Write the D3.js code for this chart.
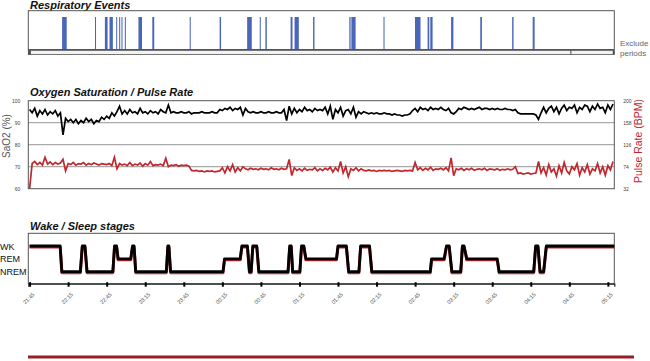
<!DOCTYPE html>
<html><head><meta charset="utf-8">
<script src="https://cdn.jsdelivr.net/npm/d3@7"></script>
<style>body{margin:0;background:#fff;} svg{display:block;font-family:"Liberation Sans",Arial,sans-serif;}</style>
</head><body>
<svg id="c" width="650" height="361"></svg>
<script>
// ---------- DATA ----------
const timeTickLabels = ["21:45","22:15","22:45","23:15","23:45","00:15","00:45","01:15","01:45","02:15","02:45","03:15","03:45","04:15","04:45","05:15"];
// minutes after 21:45
const timeDomain = [-1, 455];
const eventStarts = [25.3,50.9,58.6,62.2,67.4,69.7,71.5,74.1,84.7,95.5,124.6,147.9,169.3,179.1,183.5,203.1,206.2,220.6,248.8,250.4,275.4,299.9,309.7,311.8,328.0,350.7,375.5,391.5];
const eventDurations = [3.6,0.8,2.1,2.6,0.6,0.8,0.8,0.8,2.8,1.5,0.8,1.1,3.6,0.8,1.1,1.5,3.3,1.1,1.0,3.3,0.8,4.3,1.3,1.8,1.8,1.3,1.1,1.5];
const excludePeriods = [[-1, 421.3], [421.3, 455]];

const sampleStepMin = 2;
const sao2 = [
96,94.5,96.5,93,95.5,94,96,93.5,95,94,
95.5,93,94.5,84.5,92,90.5,91.5,90,91.5,89.5,
91,90,92,90.5,91.5,89.5,91,90.5,92.5,91.5,
93,92,94.5,93,95,97.5,94,95.5,94,96,
94.5,95,94,96.5,94.5,95,94,95.5,94.5,95,
94,96,95,94.5,98,94.5,95,94.5,94.5,95,
94.5,94.5,95,94,94.5,94.5,94.5,95,94.5,94.5,
94.5,95,94.5,94.5,96,95.5,96.5,96,97,95.5,
96.5,96,97,93.5,96.5,95,94.5,95,94.5,94.5,
95,94.5,94.5,95,94.5,94.5,95,94.5,94.5,96,
91,97.5,94,96.5,94.5,96,95,97,95.5,96,
95,96.5,95.5,96,95.5,97,94,97.5,91.5,96,
94.5,97,93,95.5,96,94,97,92.5,95,94,
95,94.5,94,94.5,94,94.5,94,94,94.5,94,
94,93.5,94,93.5,93.5,93,93.5,93.5,94,95.5,
96.5,95,97,96,96.5,95.5,97,96,96.5,96,
97,96,95.5,96.5,94.5,94,95,96.5,96,97,
96.5,96,96.5,96,96.5,97,96,96.5,96.5,96,
96.5,96,96.5,96,96,96.5,96,96,95.5,96,
94.5,94,94,94,94,94,94,93.5,91.5,94.5,
97,94.5,96.5,97.5,95,97,94,96.5,98,95.5,
97,96.5,98,94.5,97,96,98,97.5,95,97.5,
96,98.5,96.5,97,94.5,98,96,98.5];
const pulse = [
32,80,84,78,82,77,92,79,83,78,
82,79,81,88,66,80,78,82,77,80,
79,82,77,80,78,81,79,77,80,79,
78,80,76,92,70,80,77,79,76,82,
76,79,77,81,75,80,77,84,76,78,
77,79,76,90,74,77,76,78,75,77,
76,77,75,67,66,67,65,66,64,66,
65,66,64,65,66,72,62,74,66,78,
64,72,66,74,70,68,71,69,70,68,
71,69,70,68,72,69,70,68,71,69,
70,88,57,72,67,70,66,71,67,69,
68,72,66,70,67,71,68,73,64,72,
66,84,62,74,55,70,67,72,66,70,
67,66,68,66,67,65,67,66,67,66,
67,65,66,67,66,65,67,66,67,66,
82,68,72,67,71,68,73,67,70,69,
71,68,72,66,91,57,70,68,71,67,
70,68,71,67,69,70,68,71,67,70,
69,68,70,67,69,68,70,68,69,74,
61,62,60,61,62,60,61,62,84,62,
72,58,78,64,70,56,76,62,82,66,
60,74,68,80,58,72,64,78,60,70,
66,80,62,74,58,76,68,84];
const sao2Ticks = [60,70,80,90,100];
const pulseTicks = [32,74,116,158,200];
const sao2GridValues = [70,80,90];

const stageNames = ["WK","REM","NREM"];
const stageTimes = [0,23.8,25.1,39.5,41.0,43.1,44.7,64.8,66.1,67.7,68.9,78.7,80.1,81.3,82.6,106.4,107.6,108.4,109.7,150.5,151.7,163.9,165.2,169.5,171.1,172.4,173.7,176.8,178.4,201.1,202.4,203.6,204.7,210.3,211.6,213.4,215.0,238.8,240.0,246.5,248.3,256.3,257.6,264.5,266.3,311.8,312.8,322.6,324.4,326.5,328.6,335.5,336.8,338.1,340.2,363.9,365.4,392.3,393.8,395.6,397.2,400.0,402.1,455];
const stageValues = ["WK","WK","NREM","NREM","WK","WK","NREM","NREM","WK","WK","REM","REM","WK","WK","NREM","NREM","WK","WK","NREM","NREM","REM","REM","WK","WK","NREM","NREM","WK","WK","NREM","NREM","WK","WK","NREM","NREM","WK","WK","REM","REM","WK","WK","NREM","NREM","WK","WK","NREM","NREM","REM","REM","WK","WK","NREM","NREM","WK","WK","REM","REM","NREM","NREM","WK","WK","NREM","NREM","WK","WK"];

// ---------- DRAW ----------
const svg = d3.select("#c");
const L = 28.3, R = 614.3;
const x = d3.scaleLinear().domain(timeDomain).range([L, R]);
const frameColor = "#555";
const titleStyle = s => s.attr("font-size", 11).attr("font-weight", "bold").attr("font-style", "italic").attr("fill", "#111");

// Respiratory events
svg.append("text").attr("x", 30).attr("y", 8.5).text("Respiratory Events").call(titleStyle);
const evTop = 10.7, evBot = 49.5;
svg.append("g").selectAll("rect").data(eventStarts).join("rect")
  .attr("x", (d) => x(d)).attr("y", 17)
  .attr("width", (d, i) => Math.max(1, x(d + eventDurations[i]) - x(d)))
  .attr("height", evBot - 17).attr("fill", "#4a66b8");
svg.append("rect").attr("x", L).attr("y", evTop).attr("width", R - L).attr("height", evBot - evTop)
  .attr("fill", "none").attr("stroke", frameColor).attr("stroke-width", 1);
// exclude periods bar
svg.append("g").selectAll("rect").data(excludePeriods).join("rect")
  .attr("x", d => x(d[0])).attr("y", 50.5).attr("width", d => x(d[1]) - x(d[0])).attr("height", 4)
  .attr("fill", "#f2f2f2").attr("stroke", frameColor).attr("stroke-width", 0.8);
svg.append("rect").attr("x", L).attr("y", 50.5).attr("width", 2.5).attr("height", 4).attr("fill", "#444");
svg.append("rect").attr("x", R - 1.5).attr("y", 50.5).attr("width", 1.5).attr("height", 4).attr("fill", "#444");
svg.append("text").attr("x", 620).attr("y", 46).attr("font-size", 8).attr("fill", "#666").text("Exclude");
svg.append("text").attr("x", 620).attr("y", 56).attr("font-size", 8).attr("fill", "#666").text("periods");

// Oxygen saturation / pulse
svg.append("text").attr("x", 30).attr("y", 95.5).text("Oxygen Saturation / Pulse Rate").call(titleStyle);
const oxTop = 100.7, oxBot = 188.7;
const yS = d3.scaleLinear().domain([60, 100]).range([oxBot, oxTop]);
const yP = d3.scaleLinear().domain([32, 200]).range([oxBot, oxTop]);
svg.append("g").selectAll("line").data(sao2GridValues).join("line")
  .attr("x1", L).attr("x2", R).attr("y1", d => yS(d)).attr("y2", d => yS(d))
  .attr("stroke", "#aaa").attr("stroke-width", 1.3);
const tOf = i => i * sampleStepMin;
const lineS = d3.line().x((d, i) => x(tOf(i))).y(d => yS(d));
const lineP = d3.line().x((d, i) => x(tOf(i))).y(d => yP(d));
svg.append("path").attr("d", lineP(pulse)).attr("fill", "none").attr("stroke", "#c1272d").attr("stroke-width", 1.7);
svg.append("path").attr("d", lineS(sao2)).attr("fill", "none").attr("stroke", "#000").attr("stroke-width", 1.7);
svg.append("rect").attr("x", L).attr("y", oxTop).attr("width", R - L).attr("height", oxBot - oxTop)
  .attr("fill", "none").attr("stroke", frameColor).attr("stroke-width", 1);
const axL = svg.append("g").attr("transform", `translate(${L - 5},0)`)
  .call(d3.axisLeft(yS).tickValues(sao2Ticks).tickSize(0).tickFormat(d3.format("d")));
axL.select(".domain").remove();
axL.selectAll("text").attr("font-size", 5).attr("fill", "#444").attr("font-family", "Liberation Sans, Arial");
const axR = svg.append("g").attr("transform", `translate(${R + 6},0)`)
  .call(d3.axisRight(yP).tickValues(pulseTicks).tickSize(0).tickFormat(d3.format("d")));
axR.select(".domain").remove();
axR.selectAll("text").attr("font-size", 5).attr("fill", "#444").attr("font-family", "Liberation Sans, Arial");
svg.append("text").attr("transform", "translate(10,136) rotate(-90)").attr("text-anchor", "middle")
  .attr("font-size", 10).attr("fill", "#555").text("SaO2 (%)");
svg.append("text").attr("transform", "translate(642,141) rotate(-90)").attr("text-anchor", "middle")
  .attr("font-size", 10.5).attr("fill", "#c1272d").text("Pulse Rate (BPM)");

// Wake / sleep stages
svg.append("text").attr("x", 30).attr("y", 229.5).text("Wake / Sleep stages").call(titleStyle);
const slTop = 233.3, slBot = 283.7;
const yH = d3.scalePoint().domain(stageNames).range([246, 271.7]);
svg.append("rect").attr("x", L).attr("y", slTop).attr("width", R - L).attr("height", slBot - slTop)
  .attr("fill", "none").attr("stroke", frameColor).attr("stroke-width", 1);
const hyp = d3.line().x((d, i) => x(stageTimes[i])).y(d => yH(d));
svg.append("path").attr("d", hyp(stageValues)).attr("transform", "translate(0,1)").attr("fill", "none")
  .attr("stroke", "#c1272d").attr("stroke-width", 3).attr("stroke-linejoin", "round");
svg.append("path").attr("d", hyp(stageValues)).attr("fill", "none")
  .attr("stroke", "#000").attr("stroke-width", 2.8).attr("stroke-linejoin", "round");
svg.append("g").selectAll("text").data(stageNames).join("text")
  .attr("x", 0).attr("y", d => yH(d) + 3.5).attr("font-size", 9).attr("fill", "#111").text(d => d);

// time axis
const tickMin = timeTickLabels.map(s => {
  const [h, m] = s.split(":").map(Number);
  let mins = (h < 12 ? h + 24 : h) * 60 + m;
  return mins - (21 * 60 + 45);
});
const axB = svg.append("g").attr("transform", `translate(0,${slBot})`)
  .call(d3.axisBottom(x).tickValues(tickMin).tickSize(3).tickFormat((d, i) => timeTickLabels[i]));
axB.select(".domain").attr("stroke", "#222").attr("stroke-width", 1.2);
axB.selectAll(".tick line").attr("y1", -1.5).attr("stroke", "#000").attr("stroke-width", 2);
axB.selectAll(".tick text").attr("font-size", 5.5).attr("fill", "#444").attr("font-family", "Liberation Sans, Arial")
  .attr("text-anchor", "middle").attr("dy", 0).attr("y", 0)
  .attr("transform", "translate(0,16) rotate(-45)");

// bottom rule
svg.append("line").attr("x1", 28).attr("x2", 634).attr("y1", 357).attr("y2", 357)
  .attr("stroke", "#9a1f25").attr("stroke-width", 3);
</script>
</body></html>
